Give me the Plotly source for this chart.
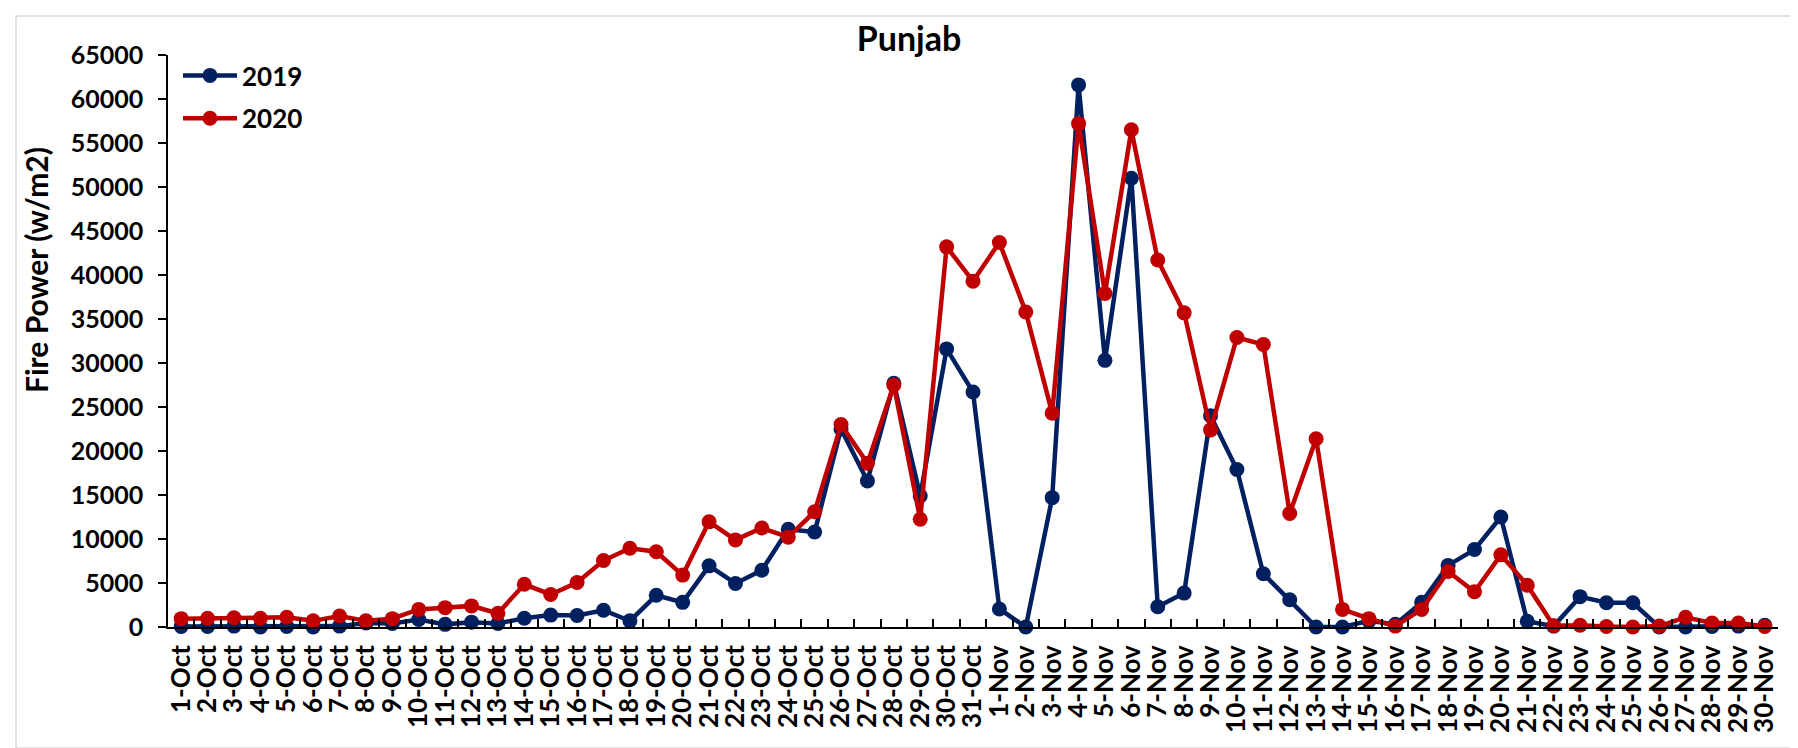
import plotly.graph_objects as go

dates = [f"{d}-Oct" for d in range(1, 32)] + [f"{d}-Nov" for d in range(1, 31)]

fp_2019 = [50, 50, 100, 0, 50, 0, 100, 450, 400, 850,
           300, 550, 400, 1000, 1350, 1300, 1900, 700, 3600, 2800,
           6950, 4950, 6450, 11100, 10800, 22500, 16600, 27700, 14900, 31600,
           26700,
           2050, 0, 14700, 61600, 30300, 51000, 2300, 3850, 24000, 17900,
           6050, 3100, 0, 0, 700, 300, 2800, 7000, 8800, 12500,
           650, 100, 3450, 2750, 2750, 0, 0, 50, 100, 200]

fp_2020 = [950, 1000, 1050, 1000, 1100, 700, 1250, 700, 950, 2000,
           2200, 2400, 1550, 4850, 3700, 5050, 7550, 8950, 8550, 5900,
           11950, 9900, 11250, 10200, 13100, 23000, 18600, 27500, 12250, 43200,
           39300,
           43700, 35800, 24300, 57200, 37900, 56500, 41700, 35700, 22400, 32900,
           32100, 12900, 21400, 2000, 950, 100, 2000, 6300, 4000, 8200,
           4750, 150, 200, 50, 0, 100, 1100, 450, 450, 50]

y_ticks = list(range(0, 65001, 5000))
y_tick_text = [str(v) for v in y_ticks]

BLUE = "#002060"
RED = "#C00000"
FONT = "Lato"

fig = go.Figure()
fig.add_trace(go.Scatter(x=dates, y=fp_2019, name="2019", mode="lines+markers",
                         line=dict(color=BLUE, width=4.5),
                         marker=dict(color=BLUE, size=15),
                         cliponaxis=False, legendgroup="a"))
fig.add_trace(go.Scatter(x=dates, y=fp_2020, name="2020", mode="lines+markers",
                         line=dict(color=RED, width=4.5),
                         marker=dict(color=RED, size=15),
                         cliponaxis=False, legendgroup="b"))

L, R, T, B = 160, 28, 47, 129
W, H = 1798, 748
pw, ph = W - L - R, H - T - B

def px_x(p):
    return (p - L) / pw

def px_y(p):
    return (H - B - p) / ph

fig.update_layout(
    width=W, height=H,
    margin=dict(l=L, r=R, t=T, b=B),
    paper_bgcolor="white", plot_bgcolor="white",
    font=dict(family=FONT, color="black"),
    title=dict(text="<b>Punjab</b>", x=901 / W, xref="container", xanchor="center",
               y=1 - 31 / H, yref="container", yanchor="middle",
               font=dict(family=FONT, size=34, color="black")),
    showlegend=True,
    legend=dict(x=px_x(170), y=px_y(44), xanchor="left", yanchor="top",
                bgcolor="rgba(0,0,0,0)", tracegroupgap=6, itemwidth=54,
                font=dict(family=FONT, size=26, color="black", weight="bold")),
    xaxis=dict(type="category", range=[-0.5, len(dates) - 0.5],
               tickmode="array", tickvals=dates, ticktext=dates,
               tickson="boundaries", ticks="inside", ticklen=8, tickcolor="black",
               tickwidth=1.5, showline=True, linecolor="black", linewidth=1.5,
               showgrid=False, zeroline=False, tickangle=-90,
               ticklabelstandoff=6,
               tickfont=dict(family=FONT, size=26, color="black", weight="bold")),
    yaxis=dict(range=[0, 65000], tickmode="array", tickvals=y_ticks,
               ticktext=y_tick_text, ticks="outside", ticklen=8,
               tickcolor="black", tickwidth=1.5, showline=True, linecolor="black",
               linewidth=1.5, showgrid=False, zeroline=False,
               ticklabelstandoff=10,
               tickfont=dict(family=FONT, size=25, color="black", weight="bold")),
    shapes=[dict(type="rect", xref="paper", yref="paper",
                 x0=px_x(8), x1=px_x(1790), y0=px_y(740), y1=px_y(8),
                 line=dict(color="#D9D9D9", width=1.5), layer="below")],
    annotations=[dict(text="<b>Fire Power (w/m2)</b>", xref="paper", yref="paper",
                      x=px_x(28), y=px_y(262), textangle=-90, showarrow=False,
                      xanchor="center", yanchor="middle",
                      font=dict(family=FONT, size=30, color="black"))],
)

fig.write_html("out.html")
